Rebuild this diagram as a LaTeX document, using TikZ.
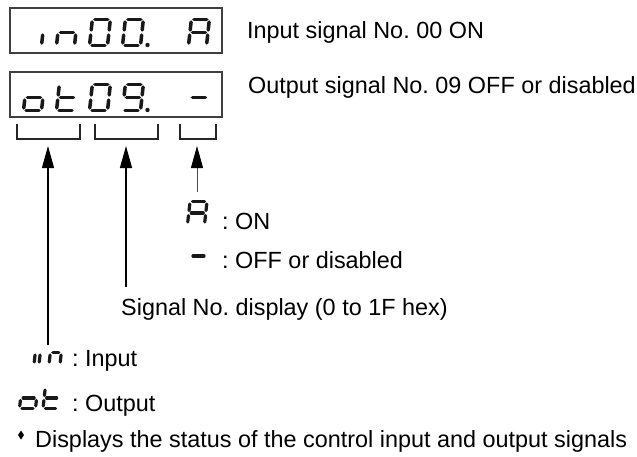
\documentclass[tikz,border=0pt]{standalone}
\usepackage{fontspec}
\setmainfont{Liberation Sans}
\usetikzlibrary{arrows.meta}
\frenchspacing
\tikzset{
  segline/.style={line width=3.5pt, line cap=round, black!90},
  legseg/.style={line width=3.2pt, line cap=round, black!90},
  dispbox/.style={draw=black!75, line width=1.3pt, minimum width=212pt, minimum height=45pt, inner sep=0pt},
  bracket/.style={draw=black!85, line width=1.1pt},
  arr/.style={line width=1.2pt, -{Triangle[width=12pt,length=22pt,color=black]}},
  lbl/.style={anchor=base west, inner sep=0pt, font=\fontsize{23.4pt}{28pt}\selectfont},
}
\def\G{2.5}
\newcommand\segA{\draw[\SST] (\G,\H) -- (\W-\G,\H);}
\newcommand\segB{\draw[\SST] (\W,\H-\G) -- (\W,\H/2+\G);}
\newcommand\segC{\draw[\SST] (\W,\H/2-\G) -- (\W,\G);}
\newcommand\segD{\draw[\SST] (\G,0) -- (\W-\G,0);}
\newcommand\segE{\draw[\SST] (0,\H/2-\G) -- (0,\G);}
\newcommand\segF{\draw[\SST] (0,\H-\G) -- (0,\H/2+\G);}
\newcommand\segG{\draw[\SST] (\G,\H/2) -- (\W-\G,\H/2);}
% #1 X, #2 Ybottom, #3 width, #4 height, #5 segments, #6 style
\newcommand\sseg[6]{%
  \begin{scope}[shift={(#1,#2)}, y=1pt, xslant=0.11]
    \def\W{#3}\def\H{#4}\def\SST{#6}%
    \foreach \s in {#5}{\csname seg\s\endcsname}
  \end{scope}}
\begin{document}
\begin{tikzpicture}[x=1pt, y=-1pt]
\useasboundingbox (0,0) rectangle (637,456);
% display boxes
\node[dispbox] (box1) at (116,30.5) {};
\node[dispbox] (box2) at (116,94.5) {};
% box 1: "in00. A"
\sseg{23.5}{45.5}{18}{26}{C}{segline}
\sseg{56.5}{45.5}{18}{26}{C,E,G}{segline}
\sseg{89.5}{45.5}{18}{26}{A,B,C,D,E,F}{segline}
\sseg{122.5}{45.5}{18}{26}{A,B,C,D,E,F}{segline}
\fill[black!90] (147.5,45) circle (2.2pt);
\sseg{188.5}{45.5}{18}{26}{A,B,C,E,F,G}{segline}
% box 2: "ot09. -"
\sseg{23.5}{110.5}{18}{26}{C,D,E,G}{segline}
\sseg{56.5}{110.5}{18}{26}{D,E,F,G}{segline}
\sseg{89.5}{110.5}{18}{26}{A,B,C,D,E,F}{segline}
\sseg{122.5}{110.5}{18}{26}{A,B,C,D,F,G}{segline}
\fill[black!90] (147.5,110) circle (2.2pt);
\sseg{188.5}{110.5}{18}{26}{G}{segline}
% labels next to boxes
\node[lbl] (t1) at (247,38) {Input signal No. 00 ON};
\node[lbl] (t2) at (248,93) {Output signal No. 09 OFF or disabled};
% brackets
\draw[bracket] (17,124) -- (17,139) -- (80,139) -- (80,124);
\draw[bracket] (95,124) -- (95,139) -- (158,139) -- (158,124);
\draw[bracket] (180,124) -- (180,139) -- (216,139) -- (216,124);
% arrow end points
\coordinate (tip1) at (48,146);
\coordinate (tip2) at (126,146);
\coordinate (tip3) at (197,146);
\coordinate (tail1) at (48,345);
\coordinate (tail2) at (126,287);
\coordinate (tail3) at (197,192);
\draw[arr] (tail1) -- (tip1);
\draw[arr] (tail2) -- (tip2);
\draw[arr, line width=1pt, black!70] (tail3) -- (tip3);
% legend A / -
\sseg{187.5}{224.5}{17}{23}{A,B,C,E,F,G}{legseg}
\node[lbl] (on) at (222,229) {: ON};
\draw[legseg] (193,256) -- (204,256);
\node[lbl] (off) at (222,268) {: OFF or disabled};
% signal number
\node[lbl] (sig) at (121,315) {Signal No. display (0 to 1F hex)};
% legend in / ot
\sseg{34}{364.5}{5}{24}{C,E}{legseg}
\sseg{49}{364.5}{11}{24}{C,E,G}{legseg}
\node[lbl] (inp) at (72,366) {: Input};
\sseg{19.5}{408.5}{16}{21}{C,D,E,G}{legseg}
\sseg{43}{408.5}{15}{21}{D,E,F,G}{legseg}
\node[lbl] (outp) at (72,411) {: Output};
% bullet line
\fill (21,430.5) -- (24,435) -- (21,439.5) -- (18,435) -- cycle;
\node[lbl] (note) at (35,447) {Displays the status of the control input and output signals};
\end{tikzpicture}
\end{document}
